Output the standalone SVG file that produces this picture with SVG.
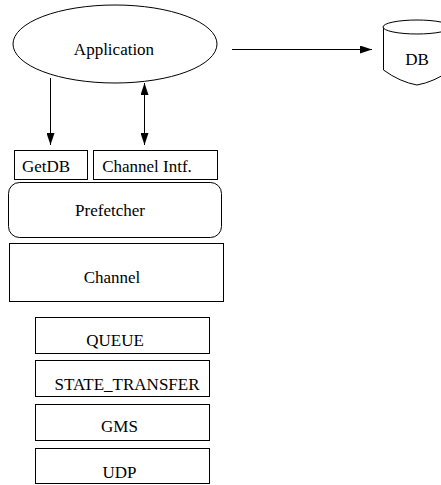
<svg xmlns="http://www.w3.org/2000/svg" width="441" height="485" viewBox="0 0 441 485">
  <style>
    .shape { fill: #ffffff; stroke: #000000; stroke-width: 1; }
    .lbl { font-family: "Liberation Serif", "Times New Roman", serif; font-size: 17px; fill: #000000; text-anchor: middle; }
    .edge { stroke: #000000; stroke-width: 1; fill: none; }
  </style>
  <defs>
    <marker id="head" viewBox="0 0 12 8" refX="12" refY="4" markerWidth="12" markerHeight="8" markerUnits="userSpaceOnUse" orient="auto-start-reverse">
      <path d="M0,0 L12,4 L0,8 Z" fill="#000000"/>
    </marker>
  </defs>
  <rect width="441" height="485" fill="#ffffff"/>

  <g id="application">
    <ellipse class="shape" cx="115" cy="44" rx="102" ry="39"/>
    <text class="lbl" x="114" y="55">Application</text>
  </g>

  <g id="db">
    <path class="shape" d="M383.5,27 L383.5,70 Q400,82 417,85 Q434,82 451,70 L451,27"/>
    <ellipse class="shape" cx="417" cy="27" rx="34" ry="7"/>
    <text class="lbl" x="417" y="65">DB</text>
  </g>

  <g id="getdb">
    <rect class="shape" x="14.5" y="150.5" width="73" height="29"/>
    <text class="lbl" x="46" y="172">GetDB</text>
  </g>

  <g id="channel-intf">
    <rect class="shape" x="93.5" y="150.5" width="124" height="29"/>
    <text class="lbl" x="147" y="172">Channel Intf.</text>
  </g>

  <g id="prefetcher">
    <rect class="shape" x="8.5" y="182.5" width="213" height="55" rx="11" ry="11"/>
    <text class="lbl" x="110" y="216">Prefetcher</text>
  </g>

  <g id="channel">
    <rect class="shape" x="9.5" y="243.5" width="214" height="58"/>
    <text class="lbl" x="112" y="283">Channel</text>
  </g>

  <g id="queue">
    <rect class="shape" x="35.5" y="317.5" width="174" height="36"/>
    <text class="lbl" x="115" y="346">QUEUE</text>
  </g>

  <g id="state-transfer">
    <rect class="shape" x="35.5" y="360.5" width="174" height="36"/>
    <text class="lbl" x="127" y="390">STATE_TRANSFER</text>
  </g>

  <g id="gms">
    <rect class="shape" x="35.5" y="404.5" width="174" height="36"/>
    <text class="lbl" x="119.5" y="432">GMS</text>
  </g>

  <g id="udp">
    <rect class="shape" x="35.5" y="448.5" width="174" height="35"/>
    <text class="lbl" x="119.5" y="478">UDP</text>
  </g>

  <g id="connectors">
    <line class="edge" x1="232" y1="49.5" x2="372" y2="49.5" marker-end="url(#head)"/>
    <line class="edge" x1="50.5" y1="78" x2="50.5" y2="145" marker-end="url(#head)"/>
    <line class="edge" x1="144.5" y1="83" x2="144.5" y2="145" marker-start="url(#head)" marker-end="url(#head)"/>
  </g>
</svg>
